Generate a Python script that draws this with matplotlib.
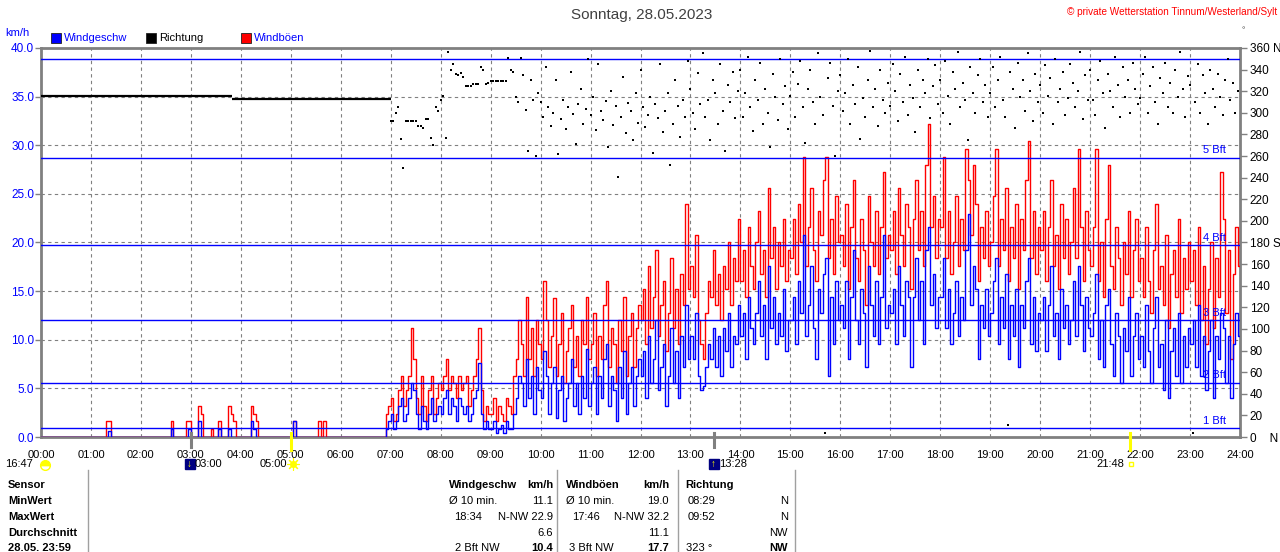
import numpy as np
import matplotlib
matplotlib.use('Agg')
import matplotlib.pyplot as plt
from matplotlib.lines import Line2D
from matplotlib.markers import MarkerStyle

plt.rcParams['font.family'] = ['Liberation Sans', 'DejaVu Sans']

#wind speed in km/h, one value every 3 minutes, one row per hour (00..23)
wind_speed = [
    [0, 0, 0, 0, 0, 0, 0, 0, 0, 0, 0, 0, 0, 0, 0, 0, 0, 0, 0, 0],
    [0, 0, 0, 0, 0, 0, 0, 0.6, 0, 0, 0, 0, 0, 0, 0, 0, 0, 0, 0, 0],
    [0, 0, 0, 0, 0, 0, 0, 0, 0, 0, 0, 0, 0.8, 0, 0, 0, 0, 0, 0, 0.8],
    [0, 0, 0, 1.6, 0, 0, 0, 0, 0, 0, 0, 0.8, 0, 0, 0, 0.8, 0, 0, 0, 0],
    [0, 0, 0, 0, 1.6, 0.8, 0, 0, 0, 0, 0, 0, 0, 0, 0, 0, 0, 0, 0, 0],
    [0, 1.6, 0, 0, 0, 0, 0, 0, 0, 0, 0, 0, 0, 0, 0, 0, 0, 0, 0, 0],
    [0, 0, 0, 0, 0, 0, 0, 0, 0, 0, 0, 0, 0, 0, 0, 0, 0, 0, 0.8, 1.6],
    [2.4, 0.8, 1.6, 3.2, 4.0, 1.6, 2.4, 4.0, 5.6, 4.8, 2.4, 0.8, 3.2, 1.6, 0.8, 2.4, 4.0, 1.6, 2.4, 3.2],
    [2.4, 4.0, 4.8, 2.4, 4.0, 3.2, 1.6, 4.0, 3.2, 2.4, 3.2, 1.6, 2.4, 4.0, 4.8, 7.6, 2.4, 0.8, 1.6, 0.8],
    [0.8, 1.6, 0.4, 0.8, 1.2, 0.4, 1.6, 0.8, 0.8, 2.4, 4.0, 6.3, 5.6, 3.2, 8.0, 4.0, 6.3, 2.4, 7.2, 4.8],
    [4.0, 8.8, 6.3, 2.4, 5.6, 7.2, 2.0, 4.8, 6.3, 1.6, 4.0, 5.6, 8.0, 3.2, 5.6, 2.4, 6.3, 4.0, 9.0, 3.2],
    [5.6, 7.2, 2.4, 6.3, 4.0, 8.0, 9.6, 3.2, 6.3, 4.8, 1.6, 7.2, 4.0, 8.8, 2.4, 5.6, 7.2, 3.2, 6.3, 8.0],
    [6.3, 8.8, 4.0, 10.4, 5.6, 8.0, 12.0, 4.8, 7.2, 9.6, 3.2, 6.3, 11.2, 5.6, 8.8, 4.0, 10.4, 7.2, 13.6, 8.0],
    [10.4, 8.0, 12.8, 6.3, 4.8, 5.2, 7.2, 9.6, 8.0, 11.2, 7.2, 10.4, 6.3, 11.2, 8.8, 12.8, 7.2, 10.4, 9.6, 13.6],
    [10.4, 12.8, 8.0, 14.4, 11.2, 9.6, 12.8, 16.0, 10.4, 13.6, 8.0, 17.6, 11.2, 14.4, 9.6, 12.8, 10.4, 15.2, 8.8, 12.0],
    [12.0, 14.4, 9.6, 16.0, 12.8, 20.8, 10.4, 13.6, 17.6, 11.2, 8.0, 15.2, 12.8, 16.8, 18.4, 6.3, 14.4, 9.6, 16.0, 12.0],
    [13.6, 11.2, 16.0, 8.0, 14.4, 19.2, 12.0, 9.6, 15.2, 12.8, 7.2, 17.6, 13.6, 10.4, 16.0, 9.6, 14.4, 20.8, 11.2, 13.6],
    [12.8, 15.2, 9.6, 17.6, 13.6, 10.4, 16.0, 14.4, 7.2, 14.4, 18.4, 12.0, 16.0, 9.6, 19.2, 21.6, 13.6, 16.8, 11.2, 14.4],
    [14.4, 18.4, 11.2, 15.2, 9.6, 12.8, 16.0, 10.4, 14.4, 12.0, 19.2, 22.9, 13.6, 17.6, 15.2, 8.0, 13.6, 11.2, 15.2, 10.4],
    [12.8, 16.0, 18.4, 9.6, 14.4, 11.2, 16.8, 8.0, 13.6, 10.4, 15.2, 7.2, 13.6, 11.2, 16.0, 18.4, 9.6, 14.4, 8.8, 12.8],
    [12.0, 14.4, 8.8, 13.6, 17.6, 10.4, 12.8, 8.0, 15.2, 11.2, 13.6, 9.6, 12.0, 16.0, 10.4, 17.6, 13.6, 8.8, 14.4, 11.2],
    [10.4, 12.8, 16.8, 8.0, 12.0, 7.2, 13.6, 15.2, 9.6, 6.3, 12.8, 10.4, 5.6, 11.2, 8.8, 14.4, 6.3, 10.4, 12.8, 8.0],
    [10.4, 7.2, 13.6, 8.8, 5.6, 11.2, 14.4, 7.2, 9.6, 4.8, 12.0, 4.0, 8.8, 11.2, 6.3, 12.8, 5.6, 10.4, 7.2, 11.2],
    [9.6, 12.0, 7.2, 13.6, 6.3, 10.4, 4.8, 8.8, 12.0, 4.0, 10.4, 8.0, 12.8, 11.2, 5.6, 10.4, 4.0, 9.6, 12.8, 10.4],
]

#gusts in km/h, same grid
wind_gust = [
    [0, 0, 0, 0, 0, 0, 0, 0, 0, 0, 0, 0, 0, 0, 0, 0, 0, 0, 0, 0],
    [0, 0, 0, 0, 0, 0, 1.6, 1.6, 0, 0, 0, 0, 0, 0, 0, 0, 0, 0, 0, 0],
    [0, 0, 0, 0, 0, 0, 0, 0, 0, 0, 0, 0, 1.6, 0, 0, 0, 0, 0, 1.6, 1.6],
    [0, 0, 0, 3.2, 2.4, 0, 0, 0, 0.8, 0, 0, 1.6, 0, 0, 0, 3.2, 2.4, 1.6, 0, 0],
    [0, 0, 0, 0, 3.2, 2.4, 1.6, 0, 0, 0, 0, 0, 0, 0, 0, 0, 0, 0, 0, 0],
    [0, 1.6, 0, 0, 0, 0, 0, 0, 0, 0, 0, 1.6, 0, 1.6, 0, 0, 0, 0, 0, 0],
    [0, 0, 0, 0, 0, 0, 0, 0, 0, 0, 0, 0, 0, 0, 0, 0, 0, 0, 2.4, 3.2],
    [4.0, 1.6, 2.4, 4.8, 6.3, 3.2, 4.8, 6.3, 11.2, 8.0, 4.0, 2.4, 6.3, 3.2, 1.6, 4.8, 6.3, 2.4, 4.0, 5.6],
    [4.8, 6.3, 8.0, 4.8, 6.3, 5.6, 4.0, 6.3, 4.8, 5.6, 6.3, 3.2, 4.8, 6.3, 8.0, 11.2, 4.8, 1.6, 3.2, 2.4],
    [2.4, 4.0, 1.6, 3.2, 2.4, 1.6, 4.0, 3.2, 2.4, 6.3, 8.0, 12.0, 9.6, 6.3, 14.4, 8.0, 11.2, 6.3, 12.0, 9.6],
    [8.0, 16.0, 12.0, 7.2, 10.4, 14.3, 6.3, 9.6, 12.8, 5.6, 8.8, 11.2, 13.6, 7.2, 10.4, 6.3, 12.0, 9.6, 14.4, 8.0],
    [9.6, 12.8, 6.3, 10.4, 8.0, 13.6, 16.0, 7.2, 11.2, 9.6, 5.6, 12.0, 8.8, 14.4, 6.3, 10.4, 12.8, 7.2, 11.2, 13.6],
    [12.0, 15.2, 9.6, 17.6, 11.2, 14.4, 19.2, 10.4, 13.6, 16.0, 8.8, 12.8, 18.4, 11.2, 15.2, 9.6, 16.8, 13.6, 24.0, 15.2],
    [17.6, 14.4, 20.8, 12.0, 9.6, 8.0, 12.8, 16.0, 14.4, 19.2, 13.6, 16.8, 12.0, 17.6, 15.2, 20.0, 13.6, 18.4, 16.0, 22.4],
    [16.0, 19.2, 14.4, 21.6, 17.6, 15.2, 20.0, 23.2, 16.8, 19.2, 14.4, 25.6, 18.4, 21.6, 15.2, 20.0, 17.6, 22.4, 16.0, 19.2],
    [18.4, 22.4, 16.8, 24.0, 20.0, 28.8, 17.6, 21.6, 25.6, 19.2, 16.0, 23.2, 20.8, 26.4, 28.8, 18.4, 22.4, 16.8, 24.8, 20.0],
    [20.8, 17.6, 24.0, 15.2, 21.6, 26.4, 18.4, 16.0, 22.4, 19.2, 13.6, 24.8, 20.0, 17.6, 23.2, 16.8, 21.6, 27.2, 18.4, 20.8],
    [19.2, 23.2, 16.8, 25.6, 20.8, 17.6, 24.0, 21.6, 15.2, 22.4, 26.4, 19.2, 23.2, 17.6, 28.0, 32.2, 21.6, 24.8, 18.4, 22.4],
    [21.6, 28.8, 18.4, 23.2, 16.8, 20.0, 24.8, 17.6, 22.4, 19.2, 29.6, 26.4, 20.8, 28.0, 24.0, 16.0, 21.6, 18.4, 23.2, 17.6],
    [20.0, 24.8, 29.6, 17.6, 22.4, 19.2, 25.6, 16.0, 21.6, 18.4, 24.0, 15.2, 22.4, 19.2, 26.4, 30.4, 18.4, 23.2, 16.8, 21.6],
    [19.2, 23.2, 16.0, 21.6, 26.4, 17.6, 20.8, 15.2, 24.0, 18.4, 22.4, 16.8, 20.0, 25.6, 18.4, 29.6, 21.6, 16.0, 23.2, 19.2],
    [17.6, 21.6, 29.6, 16.0, 20.0, 14.4, 22.4, 28.0, 17.6, 15.2, 21.6, 18.4, 13.6, 20.0, 16.8, 23.2, 14.4, 19.2, 22.4, 16.0],
    [18.4, 14.4, 21.6, 16.0, 12.8, 19.2, 24.0, 15.2, 17.6, 13.6, 20.8, 11.2, 16.8, 19.2, 14.4, 22.4, 12.8, 18.4, 15.2, 20.0],
    [16.0, 19.2, 13.6, 21.6, 12.0, 17.6, 9.6, 15.2, 20.0, 11.2, 18.4, 14.4, 27.2, 22.4, 12.8, 19.2, 8.0, 16.8, 21.6, 17.6],
]

#direction in degrees from 07:00, same 3-minute grid, one row per hour (07..23)
wind_dir = [
    [292, 292, 300, 305, 276, 249, 292, 292, 292, 292, 292, 288, 288, 286, 294, 294, 277, 270, 305, 302],
    [312, 316, 277, 356, 340, 345, 336, 335, 337, 333, 325, 325, 325, 327, 327, 327, 342, 340, 327, 328],
    [329, 329, 329, 329, 329, 329, 329, 351, 340, 338, 315, 310, 351, 335, 303, 265, 330, 312, 260, 318],
    [310, 296, 342, 305, 288, 300, 330, 262, 294, 312, 285, 305, 338, 299, 271, 308, 322, 290, 304, 350],
    [298, 315, 284, 345, 302, 293, 311, 268, 320, 289, 306, 241, 296, 333, 281, 309, 302, 275, 318, 291],
    [340, 305, 287, 298, 315, 263, 308, 295, 345, 282, 302, 318, 252, 290, 330, 306, 278, 312, 296, 348],
    [322, 300, 285, 337, 308, 355, 296, 312, 275, 330, 318, 290, 345, 302, 265, 326, 310, 338, 295, 320],
    [340, 296, 318, 352, 305, 283, 330, 312, 346, 290, 322, 300, 268, 336, 315, 293, 350, 308, 325, 285],
    [316, 338, 296, 327, 348, 305, 272, 322, 340, 310, 290, 355, 315, 298, 4, 332, 346, 306, 260, 320],
    [335, 302, 318, 350, 290, 326, 308, 342, 276, 314, 296, 330, 357, 305, 322, 288, 340, 312, 300, 328],
    [306, 345, 320, 292, 336, 310, 352, 298, 326, 314, 282, 340, 305, 330, 318, 350, 295, 325, 344, 308],
    [330, 300, 348, 316, 290, 338, 322, 356, 305, 328, 312, 275, 342, 318, 300, 335, 350, 310, 326, 296],
    [318, 342, 305, 330, 352, 312, 296, 11, 338, 322, 286, 346, 315, 330, 302, 355, 320, 292, 336, 310],
    [326, 300, 344, 316, 332, 290, 350, 310, 322, 338, 298, 314, 345, 328, 305, 320, 356, 294, 335, 312],
    [340, 312, 298, 330, 348, 318, 286, 336, 320, 305, 352, 326, 296, 342, 315, 330, 300, 346, 322, 308],
    [314, 336, 352, 300, 325, 342, 310, 290, 332, 318, 346, 305, 328, 300, 340, 315, 356, 322, 296, 334],
    [326, 4, 310, 345, 300, 335, 318, 290, 340, 322, 305, 336, 315, 298, 330, 350, 312, 328, 300, 320],
]

#calm night: direction held constant
calm_dir_start = [0.0, 3.83]
calm_dir_end = [3.83, 7.0]
calm_dir = [316, 313]

#beaufort limits in km/h
bft_kmh = [0.9, 5.6, 12.0, 19.7, 28.7, 38.9]
bft_labels = ['1 Bft', '2 Bft', '3 Bft', '4 Bft', '5 Bft', '']

hour_labels = ['%02d:00' % h for h in range(25)]
dir_ticks = list(range(0, 361, 20))
dir_labels = ['0    N'] + [str(d) for d in range(20, 180, 20)] + ['180 S'] + \
             [str(d) for d in range(200, 360, 20)] + ['360 N']

W, H = 1280, 552
def fx(x):
    return x / W
def fy(y):
    return 1 - y / H

fig = plt.figure(figsize=(12.8, 5.52), dpi=100)
ax = fig.add_axes([fx(41), fy(437), fx(1240) - fx(41), fy(48) - fy(437)])

speed = np.array(wind_speed).ravel()
gust = np.array(wind_gust).ravel()
t = np.arange(len(speed)) / 20.0
ts = np.append(t, 24.0)

#grid first
for h in range(1, 24):
    ax.axvline(h, color='#808080', lw=0.8, ls=(0, (3, 3)), zorder=1)
for v in range(5, 40, 5):
    ax.axhline(v, color='#808080', lw=0.8, ls=(0, (3, 3)), zorder=1)

ax.step(ts, np.append(gust, gust[-1]), where='post', color='#ff0000', lw=1.0, zorder=3)
ax.step(ts, np.append(speed, speed[-1]), where='post', color='#0000ff', lw=1.0, zorder=4)

for b, lab in zip(bft_kmh, bft_labels):
    ax.axhline(b, color='#0000ff', lw=1.0, zorder=5)
    if lab:
        ax.text(23.72, b + 0.25, lab, color='#0000ff', fontsize=8, ha='right', va='bottom', zorder=6)

ax.set_xlim(0, 24)
ax.set_ylim(0, 40)
ax.set_xticks(range(25))
ax.set_xticklabels(hour_labels, fontsize=8)
ax.set_yticks(np.arange(0, 40.1, 5))
ax.set_yticklabels(['%.1f' % v for v in np.arange(0, 40.1, 5)], fontsize=8.5, color='#0000ff')
ax.tick_params(axis='x', length=0, pad=9)
ax.tick_params(axis='y', length=4, width=1, color='#808080', pad=1)
for s in ax.spines.values():
    s.set_color('#808080')
    s.set_linewidth(2)

#direction on a twin axis
ax2 = ax.twinx()
ax2.set_ylim(0, 360)
ax2.set_yticks(dir_ticks)
ax2.set_yticklabels(dir_labels, fontsize=8.5)
ax2.tick_params(axis='y', length=5, width=1, color='#808080', pad=2)
for s in ax2.spines.values():
    s.set_visible(False)
ax2.hlines(calm_dir, calm_dir_start, calm_dir_end, color='black', lw=1.6, zorder=6)
dirs = np.array(wind_dir).ravel()
ax2.plot(t[140:140 + len(dirs)], dirs, 's', color='black', ms=2.1, mew=0, zorder=6)

#title and header
fig.text(fx(642), fy(15), 'Sonntag, 28.05.2023', fontsize=11, color='#404040', ha='center', va='center')
fig.text(fx(1277), fy(12), '\u00a9 private Wetterstation Tinnum/Westerland/Sylt', fontsize=7.2,
         color='#ff0000', ha='right', va='center')
fig.text(fx(1243), fy(31), '\u00b0', fontsize=6, color='#404040', ha='center', va='center')
fig.text(fx(5), fy(33), 'km/h', fontsize=8, color='#0000ff', ha='left', va='center')

legend_items = [(51, '#0000ff', 'Windgeschw', '#0000ff'),
                (146, '#000000', 'Richtung', '#000000'),
                (241, '#ff0000', 'Windb\u00f6en', '#0000ff')]
for x, c, lab, tc in legend_items:
    fig.add_artist(Line2D([fx(x + 5)], [fy(38)], marker='s', ms=7, mfc=c, mec='#202020', mew=0.6))
    fig.text(fx(x + 13), fy(38), lab, fontsize=8, color=tc, ha='left', va='center')

#sun and moon marks below the axis
for tx, col, y1 in [(3.0, '#808080', 447), (5.0, '#ffff00', 450), (13.47, '#808080', 447), (21.8, '#ffff00', 450)]:
    xx = fx(41) + tx / 24 * (fx(1240) - fx(41))
    fig.add_artist(Line2D([xx, xx], [fy(433), fy(y1)], color=col, lw=2.2))

fig.text(fx(5), fy(464), '16:47', fontsize=8, ha='left', va='center')
fig.add_artist(Line2D([fx(45)], [fy(465)], marker=MarkerStyle('o', fillstyle='top'), ms=7,
                      mfc='#ffff00', mec='#ffff00', mfcalt='none'))
for xm, arrow, lab in [(190, '\u2193', '03:00'), (714, '\u2191', '13:28')]:
    fig.add_artist(Line2D([fx(xm)], [fy(464)], marker='s', ms=7, mfc='#000080', mec='#000080'))
    fig.text(fx(xm - 1), fy(464), arrow, fontsize=7, color='#ffff00', ha='center', va='center',
             fontweight='bold')
    fig.text(fx(xm + 5), fy(464), lab, fontsize=8, ha='left', va='center')
fig.text(fx(287), fy(464), '05:00', fontsize=8, ha='right', va='center')
fig.add_artist(Line2D([fx(293)], [fy(464)], marker='o', ms=4, mfc='#ffff00', mec='#ffff00'))
fig.add_artist(Line2D([fx(293)], [fy(464)], marker=(8, 2, 0), ms=9, mec='#ffff00', mew=0.8))
fig.text(fx(1124), fy(464), '21:48', fontsize=8, ha='right', va='center')
fig.add_artist(Line2D([fx(1131)], [fy(464)], marker='s', ms=3.5, mfc='none', mec='#ffff00', mew=1))

#summary table
for xv in [88, 557, 678, 795]:
    fig.add_artist(Line2D([fx(xv), fx(xv)], [fy(470), fy(552)], color='#a0a0a0', lw=1))

row_labels = ['Sensor', 'MinWert', 'MaxWert', 'Durchschnitt', '28.05. 23:59']
row_y = [485, 501, 517, 533, 548]
for lab, y in zip(row_labels, row_y):
    fig.text(fx(8), fy(y), lab, fontsize=8, fontweight='bold', ha='left', va='center')

header = [(449, 'Windgeschw', 'left'), (553, 'km/h', 'right'), (566, 'Windb\u00f6en', 'left'),
          (669, 'km/h', 'right'), (685, 'Richtung', 'left')]
for x, s, ha in header:
    fig.text(fx(x), fy(485), s, fontsize=8, fontweight='bold', ha=ha, va='center')

cells = [
    (449, 501, '\u00d8 10 min.', 'left', 'normal'), (553, 501, '11.1', 'right', 'normal'),
    (566, 501, '\u00d8 10 min.', 'left', 'normal'), (669, 501, '19.0', 'right', 'normal'),
    (688, 501, '08:29', 'left', 'normal'), (788, 501, 'N', 'right', 'normal'),
    (482, 517, '18:34', 'right', 'normal'), (553, 517, 'N-NW 22.9', 'right', 'normal'),
    (572, 517, '17:46', 'left', 'normal'), (669, 517, 'N-NW 32.2', 'right', 'normal'),
    (688, 517, '09:52', 'left', 'normal'), (788, 517, 'N', 'right', 'normal'),
    (553, 533, '6.6', 'right', 'normal'), (669, 533, '11.1', 'right', 'normal'),
    (788, 533, 'NW', 'right', 'normal'),
    (500, 548, '2 Bft NW', 'right', 'normal'), (553, 548, '10.4', 'right', 'bold'),
    (614, 548, '3 Bft NW', 'right', 'normal'), (669, 548, '17.7', 'right', 'bold'),
    (686, 548, '323 \u00b0', 'left', 'normal'), (788, 548, 'NW', 'right', 'bold'),
]
for x, y, s, ha, fw in cells:
    fig.text(fx(x), fy(y), s, fontsize=8, fontweight=fw, ha=ha, va='center')

fig.savefig('out.png', dpi=100)
